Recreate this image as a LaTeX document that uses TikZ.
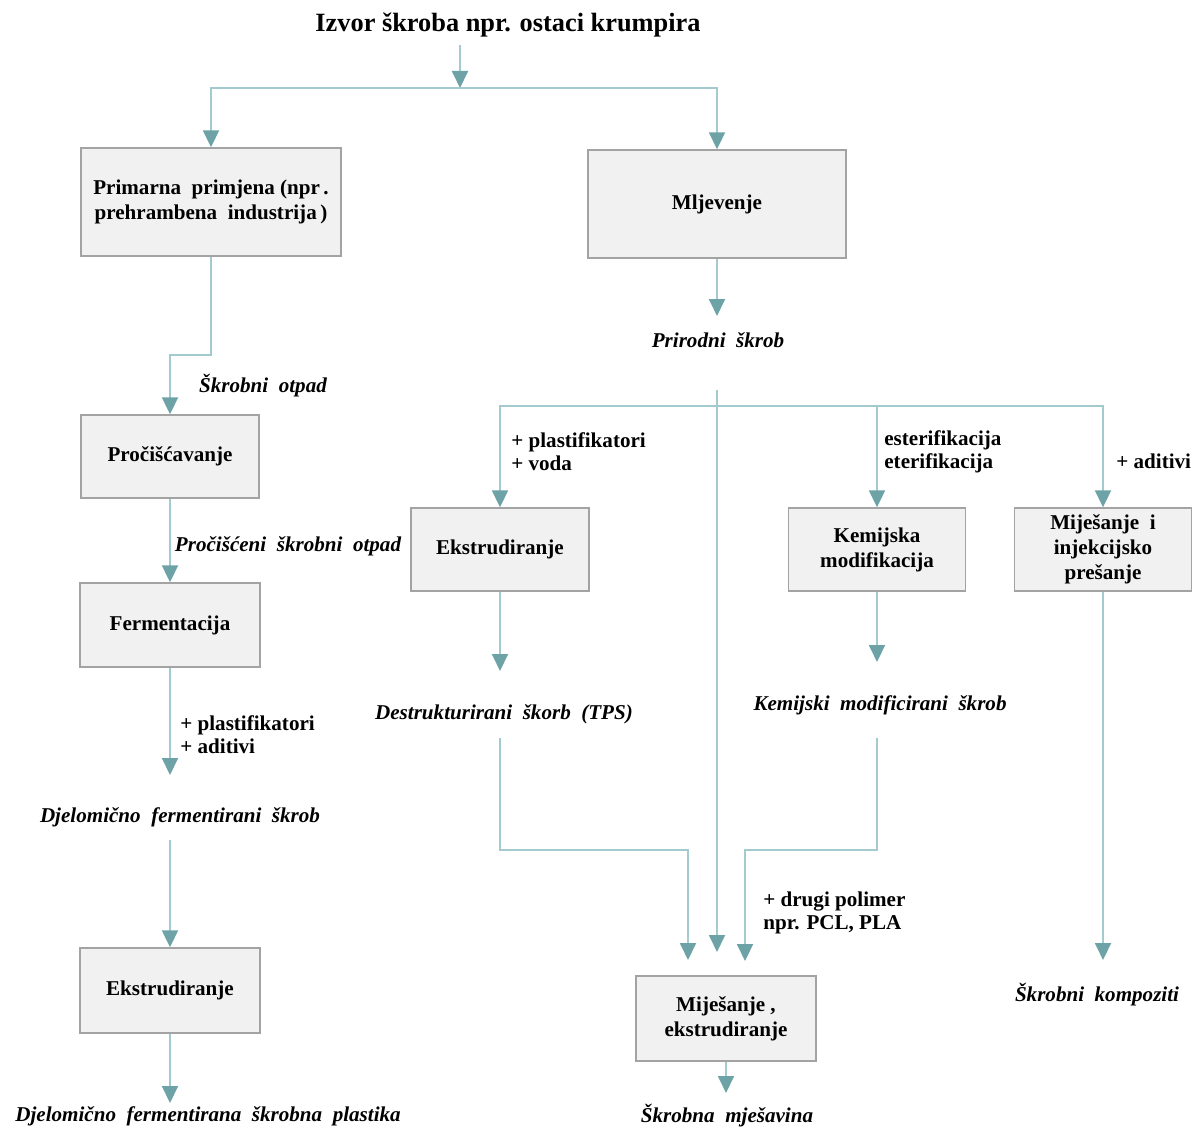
\documentclass[tikz,border=0pt]{standalone}
\usepackage{fontspec}
\setmainfont{Liberation Serif}
\usepackage{tikz}
\usetikzlibrary{arrows.meta, positioning}
\definecolor{linec}{HTML}{A3CBCF}
\definecolor{tipc}{HTML}{6DA3A7}
\definecolor{boxfill}{HTML}{F1F1F1}
\definecolor{boxdraw}{HTML}{A3A3A3}

\begin{document}
\begin{tikzpicture}[x=0.02cm, y=-0.02cm,
    box/.style={draw=boxdraw, fill=boxfill, line width=0.8pt, align=center, inner sep=2pt,
        font=\fontsize{12}{14.2}\selectfont\bfseries},
    lbl/.style={align=left, anchor=west, inner sep=0pt, font=\fontsize{12}{13.2}\selectfont\bfseries},
    itl/.style={inner sep=0pt, font=\fontsize{12}{14}\selectfont\bfseries\itshape},
    line/.style={draw=linec, line width=1.1pt},
    arr/.style={line, -{Triangle[length=0.34cm, width=0.32cm, color=tipc]}}]
    \useasboundingbox (0,0) rectangle (1192,1128);

    % Title and first split
    \node[inner sep=0pt, font=\fontsize{15}{17}\selectfont\bfseries] (title) at (508,25) {Izvor škroba npr. ostaci krumpira};
    \coordinate (j0) at (460,88);
    \coordinate (s0) at (460,45);
    \draw[arr] (s0) -- (j0);

    % Boxes
    \node[box, minimum width=5.2cm, minimum height=2.16cm] (prim) at (211,202) {Primarna\ \ primjena (npr\,.\\prehrambena\ \ industrija\,)};
    \node[box, minimum width=5.16cm, minimum height=2.16cm] (mlj) at (717,204) {Mljevenje};
    \node[box, minimum width=3.56cm, minimum height=1.66cm] (proc) at (170,456.5) {Pročišćavanje};
    \node[box, minimum width=3.6cm, minimum height=1.68cm] (ferm) at (170,625) {Fermentacija};
    \node[box, minimum width=3.6cm, minimum height=1.7cm] (ekstL) at (170,990.5) {Ekstrudiranje};
    \node[box, minimum width=3.56cm, minimum height=1.66cm] (ekstR) at (500,549.5) {Ekstrudiranje};
    \node[box, minimum width=3.54cm, minimum height=1.66cm] (kem) at (877,549.5) {Kemijska\\modifikacija};
    \node[box, minimum width=3.54cm, minimum height=1.66cm] (mij) at (1103,549.5) {Miješanje\ \ i\\injekcijsko\\prešanje};
    \node[box, minimum width=3.6cm, minimum height=1.7cm] (mix) at (726,1018.5) {Miješanje\ ,\\ekstrudiranje};

    \draw[arr] (j0) -| (prim.north);
    \draw[arr] (j0) -| (mlj.north);

    % Left branch
    \coordinate (k1) at (211,355);
    \draw[arr] (prim.south) -- (k1) -| (proc.north);
    \node[itl] (otp) at (263,386) {Škrobni\ \ otpad};
    \draw[arr] (proc) -- (ferm);
    \node[itl] (potp) at (288,546) {Pročišćeni\ \ škrobni\ \ otpad};
    \coordinate (e1) at (170,775);
    \draw[arr] (ferm) -- (e1);
    \node[lbl] (add1) at (180,735) {+ plastifikatori\\+ aditivi};
    \node[itl] (dfs) at (180,817) {Djelomično\ \ fermentirani\ \ škrob};
    \coordinate (s1) at (170,840);
    \draw[arr] (s1) -- (ekstL);
    \coordinate (e2) at (170,1103);
    \draw[arr] (ekstL) -- (e2);
    \node[itl] (dfp) at (208,1116) {Djelomično\ \ fermentirana\ \ škrobna\ \ plastika};

    % Right branch
    \coordinate (e3) at (717,316);
    \draw[arr] (mlj) -- (e3);
    \node[itl] (prs) at (718,340) {Prirodni\ \ škrob};
    \coordinate (s2) at (717,390);
    \coordinate (e4) at (717,952);
    \draw[arr] (s2) -- (e4);
    \coordinate (j1) at (717,406);
    \draw[arr] (j1) -| (ekstR.north);
    \draw[arr] (j1) -| (kem.north);
    \draw[arr] (j1) -| (mij.north);
    \node[lbl] (add2) at (511,452) {+ plastifikatori\\+ voda};
    \node[lbl] (est) at (884,452) {esterifikacija\\eterifikacija};
    \node[lbl] (add3) at (1116,461) {+ aditivi};

    \coordinate (e5) at (500,671);
    \draw[arr] (ekstR) -- (e5);
    \node[itl] (tps) at (504,714) {Destrukturirani\ \ škorb\ \ (TPS)};
    \coordinate (e6) at (877,662);
    \draw[arr] (kem) -- (e6);
    \node[itl] (kms) at (880,705) {Kemijski\ \ modificirani\ \ škrob};
    \coordinate (e7) at (1103,960);
    \draw[arr] (mij) -- (e7);
    \node[itl] (kom) at (1097,995) {Škrobni\ \ kompoziti};

    % Merging into mixing
    \coordinate (s3) at (500,738);
    \coordinate (k2) at (688,850);
    \coordinate (e8) at (688,960);
    \draw[arr] (s3) |- (k2) -- (e8);
    \coordinate (s4) at (877,738);
    \coordinate (k3) at (745,850);
    \coordinate (e9) at (745,961);
    \draw[arr] (s4) |- (k3) -- (e9);
    \node[lbl] (pol) at (763,913) {+ drugi polimer\\npr. PCL, PLA};
    \coordinate (e10) at (726,1093);
    \draw[arr] (mix) -- (e10);
    \node[itl] (mjs) at (727,1116) {Škrobna\ \ mješavina};
\end{tikzpicture}
\end{document}
